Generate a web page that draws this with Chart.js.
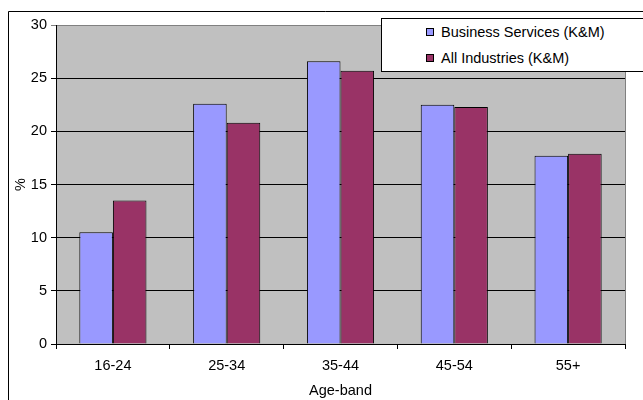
<!DOCTYPE html>
<html>
<head>
<meta charset="utf-8">
<script src="https://cdn.jsdelivr.net/npm/chart.js@4"></script>
<style>
  html, body { margin: 0; padding: 0; background: #fff; overflow: hidden; }
  #wrap { position: relative; width: 643px; height: 400px; }
  #legend {
    position: absolute; left: 381px; top: 18px; width: 300px; height: 52px;
    border: 1px solid #000; background: #fff;
    font-family: 'Liberation Sans', Arial, sans-serif; font-size: 14.5px; color: #000;
  }
  #legend .item { position: absolute; left: 44px; height: 16px; line-height: 16px; white-space: nowrap; }
  #legend .box { position: absolute; left: 0; top: 4px; width: 6px; height: 6px; border: 1px solid #000; }
  #legend .txt { position: absolute; left: 15px; top: 0; }
</style>
</head>
<body>
<div id="wrap">
  <canvas id="ageChart" width="643" height="400"></canvas>
  <div id="legend"></div>
</div>
<script>
var ageBands = ['16-24', '25-34', '35-44', '45-54', '55+'];
var businessServices = [10.5, 22.6, 26.6, 22.5, 17.7];
var allIndustries = [13.5, 20.8, 25.7, 22.3, 17.9];
var yTicks = [0, 5, 10, 15, 20, 25, 30];

var FONT = { family: "'Liberation Sans', Arial, sans-serif", size: 14.5 };

// white page, outer frame and grey plot area
var frame = {
  id: 'frame',
  beforeDraw: function(chart) {
    var ctx = chart.ctx, a = chart.chartArea;
    ctx.save();
    ctx.fillStyle = '#fff';
    ctx.fillRect(0, 0, chart.width, chart.height);
    ctx.strokeStyle = '#000';
    ctx.lineWidth = 1;
    ctx.beginPath();
    ctx.moveTo(8.5, chart.height);
    ctx.lineTo(8.5, 11.5);
    ctx.lineTo(chart.width, 11.5);
    ctx.stroke();
    ctx.fillStyle = '#c0c0c0';
    ctx.fillRect(a.left, a.top, a.right - a.left, a.bottom - a.top);
    ctx.strokeStyle = '#808080';
    ctx.strokeRect(a.left + 0.5, a.top + 0.5, a.right - a.left, a.bottom - a.top);
    ctx.restore();
  }
};

var chart = new Chart(document.getElementById('ageChart'), {
  type: 'bar',
  data: {
    labels: ageBands,
    datasets: [{
      label: 'Business Services (K&M)',
      data: businessServices,
      backgroundColor: '#9999ff',
      borderColor: '#000',
      borderWidth: 1
    }, {
      label: 'All Industries (K&M)',
      data: allIndustries,
      backgroundColor: '#993366',
      borderColor: '#000',
      borderWidth: 1
    }]
  },
  options: {
    responsive: false,
    devicePixelRatio: 1,
    animation: false,
    layout: { padding: { left: 0, top: 25, right: 18, bottom: 0 } },
    datasets: { bar: { categoryPercentage: 0.59, barPercentage: 1.0 } },
    plugins: { legend: { display: false }, tooltip: { enabled: false } },
    scales: {
      x: {
        afterFit: function(s) { s.height = 56; },
        grid: { offset: true, drawOnChartArea: false, drawTicks: true, tickLength: 5, color: '#000' },
        border: { display: true, color: '#000' },
        ticks: { color: '#000', font: FONT, padding: 8, maxRotation: 0 },
        title: { display: true, text: 'Age-band', color: '#000', font: FONT, padding: { top: 0, bottom: 0 } }
      },
      y: {
        min: 0,
        max: 30,
        afterFit: function(s) { s.width = 56; },
        afterBuildTicks: function(s) { s.ticks = yTicks.map(function(v) { return { value: v }; }); },
        grid: {
          color: function(c) { return c.tick && c.tick.value === 30 ? '#808080' : '#000'; },
          tickLength: 5
        },
        border: { display: true, color: '#000' },
        ticks: { color: '#000', font: FONT, padding: 4 },
        title: { display: true, text: '%', color: '#000', font: FONT, padding: { top: 12, bottom: 0 } }
      }
    }
  },
  plugins: [frame]
});

// legend built from the chart's own datasets
var legendEl = document.getElementById('legend');
chart.data.datasets.forEach(function(ds, i) {
  var item = document.createElement('div');
  item.className = 'item';
  item.style.top = (5 + i * 26) + 'px';
  var box = document.createElement('span');
  box.className = 'box';
  box.style.background = ds.backgroundColor;
  var txt = document.createElement('span');
  txt.className = 'txt';
  txt.textContent = ds.label;
  item.appendChild(box);
  item.appendChild(txt);
  legendEl.appendChild(item);
});
</script>
</body>
</html>
